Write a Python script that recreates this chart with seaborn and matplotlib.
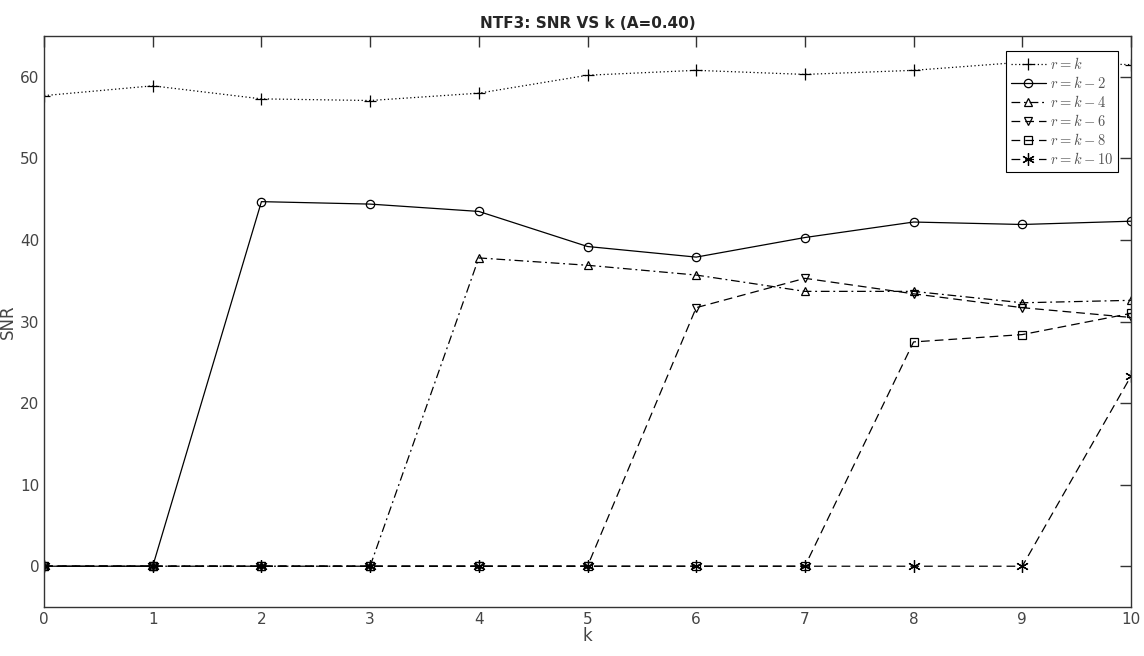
import matplotlib
matplotlib.use("Agg")
import matplotlib.pyplot as plt
import seaborn as sns

# Dados
k = [0, 1, 2, 3, 4, 5, 6, 7, 8, 9, 10]
snr_r_k = [57.7, 58.9, 57.3, 57.1, 58.0, 60.2, 60.8, 60.3, 60.8, 61.8, 61.5]
snr_r_k2 = [0, 0, 44.7, 44.4, 43.5, 39.2, 37.9, 40.3, 42.2, 41.9, 42.3]
snr_r_k4 = [0, 0, 0, 0, 37.8, 36.9, 35.7, 33.7, 33.7, 32.3, 32.6]
snr_r_k6 = [0, 0, 0, 0, 0, 0, 31.7, 35.3, 33.4, 31.7, 30.5]
snr_r_k8 = [0, 0, 0, 0, 0, 0, 0, 0, 27.5, 28.4, 31.0]
snr_r_k10 = [0, 0, 0, 0, 0, 0, 0, 0, 0, 0, 23.3]
labels = [r"$r=k$", r"$r=k-2$", r"$r=k-4$", r"$r=k-6$", r"$r=k-8$", r"$r=k-10$"]

sns.set_style("white")
plt.rcParams["font.family"] = ["DejaVu Sans"]
plt.rcParams["mathtext.fontset"] = "cm"

fig = plt.figure(figsize=(11.44, 6.56), dpi=100)
ax = fig.add_axes([0.0385, 0.0747, 0.9501, 0.8703])

series = [snr_r_k, snr_r_k2, snr_r_k4, snr_r_k6, snr_r_k8, snr_r_k10]
estilos = [((0, (1, 2)), "+"), ("-", "o"), ((0, (7, 3, 1.5, 3)), "^"),
           ((0, (7, 4)), "v"), ((0, (7, 4)), "s"), ((0, (7, 4)), (6, 2, 0))]

for vals, lab, (ls, mk) in zip(series, labels, estilos):
    grande = mk == "+" or isinstance(mk, tuple)
    sns.lineplot(x=k, y=vals, ax=ax, color="black", linestyle=ls, linewidth=0.9,
                 marker=mk, markersize=9 if grande else 6,
                 markerfacecolor="none", markeredgecolor="black", markeredgewidth=0.9,
                 label=lab)

ax.set_xlim(0, 10)
ax.set_ylim(-5, 65)
ax.set_xticks(range(0, 11))
ax.set_yticks(range(0, 61, 10))
ax.tick_params(direction="in", length=8, top=True, right=True, colors="#333333",
               labelcolor="#444444", labelsize=11, width=1)
for s in ax.spines.values():
    s.set_color("#333333")
    s.set_linewidth(1)

ax.set_title("NTF3: SNR VS k (A=0.40)", fontsize=11, fontweight="bold", pad=6)
ax.set_xlabel("k", fontsize=12, color="#444444", labelpad=0)
ax.set_ylabel("SNR", fontsize=12, color="#444444", labelpad=2)

leg = ax.legend(loc="upper right", bbox_to_anchor=(0.995, 0.986), fancybox=False,
                edgecolor="black", framealpha=1, fontsize=10.5, handlelength=2.4,
                labelspacing=0.2, borderpad=0.35, handletextpad=0.3)
leg.get_frame().set_linewidth(0.8)
for t in leg.get_texts():
    t.set_color("#555555")

fig.savefig("out.png", dpi=100)
